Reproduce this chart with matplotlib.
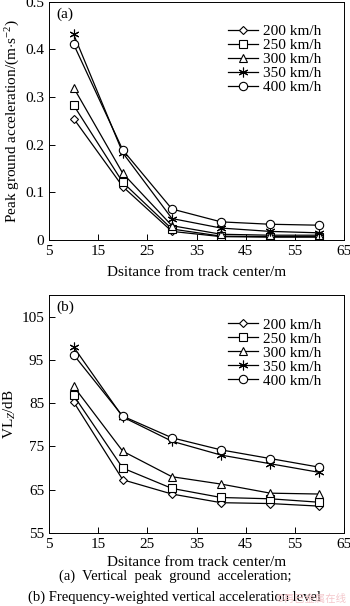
"""Ground vibration vs distance from track centre, two stacked panels."""

import matplotlib

matplotlib.use("Agg")
import matplotlib.pyplot as plt

plt.rcParams["font.family"] = ["Liberation Serif", "DejaVu Serif"]
plt.rcParams["mathtext.fontset"] = "custom"
plt.rcParams["mathtext.rm"] = "Liberation Serif"
plt.rcParams["mathtext.it"] = "Liberation Serif:italic"

# distances from track centre (m)
distance = [10, 20, 30, 40, 50, 60]
speed_labels = ["200 km/h", "250 km/h", "300 km/h", "350 km/h", "400 km/h"]

# (a) peak ground acceleration, m/s^2
pga_200 = [0.255, 0.112, 0.018, 0.007, 0.006, 0.006]
pga_250 = [0.283, 0.121, 0.023, 0.008, 0.007, 0.007]
pga_300 = [0.320, 0.140, 0.030, 0.012, 0.010, 0.010]
pga_350 = [0.432, 0.183, 0.045, 0.025, 0.018, 0.015]
pga_400 = [0.411, 0.189, 0.065, 0.038, 0.033, 0.031]

# (b) frequency-weighted vertical acceleration level, dB
vlz_200 = [85.3, 67.3, 64.0, 62.0, 61.8, 61.2]
vlz_250 = [86.8, 70.0, 65.3, 63.2, 62.9, 62.1]
vlz_300 = [88.9, 73.9, 68.0, 66.3, 64.2, 64.0]
vlz_350 = [98.0, 81.8, 76.2, 73.0, 71.0, 69.0]
vlz_400 = [96.2, 82.0, 77.0, 74.2, 72.2, 70.2]

markers = ["D", "s", "^", (6, 2, 0), "o"]
msizes = [4, 5.5, 5.5, 7, 6]

fig = plt.figure(figsize=(3.5, 6.06), dpi=100)
ax_a = fig.add_axes([0.14, 0.604, 0.843, 0.393])
ax_b = fig.add_axes([0.14, 0.1205, 0.843, 0.3927])


def draw_panel(ax, series, ylim, yticks, ylabel, tag, xpad):
    for vals, lab, mk, ms in zip(series, speed_labels, markers, msizes):
        ax.plot(distance, vals, color="black", lw=0.9, marker=mk, ms=ms,
                mec="black", mfc="white", mew=0.8, label=lab)
    ax.set_xlim(5, 65)
    ax.set_xticks(range(5, 66, 10))
    ax.set_ylim(*ylim)
    ax.set_yticks(yticks)
    ax.tick_params(direction="in", labelsize=11, length=4, width=0.7)
    for s in ax.spines.values():
        s.set_linewidth(0.7)
    ax.set_xlabel("Dsitance from track center/m", fontsize=11, labelpad=xpad)
    ax.set_ylabel(ylabel, fontsize=11, labelpad=2)
    ax.text(0.025, 0.975, tag, transform=ax.transAxes, fontsize=11, va="top")
    ax.legend(loc="upper right", frameon=False, fontsize=11, handlelength=2.0,
              handletextpad=0.3, labelspacing=0.02, borderaxespad=1.1)


draw_panel(ax_a, [pga_200, pga_250, pga_300, pga_350, pga_400],
           (0, 0.5), [0, 0.1, 0.2, 0.3, 0.4, 0.5],
           r"Peak ground acceleration/(m$\cdot$s$^{-2}$)", "(a)", 6)
ax_a.set_yticklabels(["0", "0.1", "0.2", "0.3", "0.4", "0.5"])

draw_panel(ax_b, [vlz_200, vlz_250, vlz_300, vlz_350, vlz_400],
           (55, 110), [55, 65, 75, 85, 95, 105], r"VL$_Z$/dB", "(b)", 4)

fig.text(0.5, 0.049, "(a)  Vertical  peak  ground  acceleration;",
         ha="center", va="center", fontsize=10.5)
fig.text(0.5, 0.015, "(b) Frequency-weighted vertical acceleration level",
         ha="center", va="center", fontsize=10.5)
fig.text(0.99, 0.003, "©再已金属在线", ha="right", va="bottom", fontsize=7.5,
         color="#f4c8cc", family=["Noto Sans CJK SC", "DejaVu Sans"])

fig.savefig("out.png", dpi=100)
